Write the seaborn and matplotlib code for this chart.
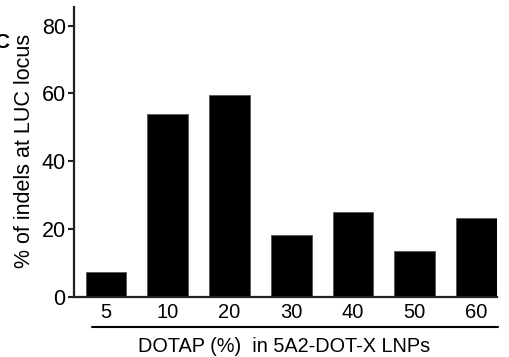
import matplotlib
matplotlib.use("Agg")
import matplotlib.pyplot as plt
import seaborn as sns
import pandas as pd

categories = ["5", "10", "20", "30", "40", "50", "60"]
indels = [7.5, 54.0, 59.4, 18.2, 25.0, 13.5, 23.3]
y_ticks = [0, 20, 40, 60, 80]

sns.set_style("ticks")
plt.rcParams['font.family'] = ['Liberation Sans', 'DejaVu Sans']
plt.rcParams['text.color'] = 'black'
plt.rcParams['axes.labelcolor'] = 'black'
plt.rcParams['xtick.color'] = 'black'
plt.rcParams['ytick.color'] = 'black'

df = pd.DataFrame({"DOTAP": categories, "indels": indels})

fig = plt.figure(figsize=(5.1, 3.57), dpi=100)
ax = fig.add_axes([74/510, 1-297/357, 423/510, (297-7.3)/357])

sns.barplot(data=df, x="DOTAP", y="indels", color="black", saturation=1,
            width=0.66, edgecolor="#555555", linewidth=0.6, ax=ax)

ax.set_xlim(-0.52, 6.33)
ax.set_ylim(0, 85.4)
ax.set_yticks(y_ticks)
ax.tick_params(axis='y', labelsize=15.5, length=4, width=1.5, color="#222222", pad=2)
ax.tick_params(axis='x', labelsize=14.5, length=0, pad=4)
for s in ["top", "right"]:
    ax.spines[s].set_visible(False)
for s in ["left", "bottom"]:
    ax.spines[s].set_linewidth(1.6)
    ax.spines[s].set_color("#222222")

ax.set_ylabel("% of indels at LUC locus", fontsize=15.5, va="center")
ax.yaxis.set_label_coords(-0.118, 0.504)
ax.set_xlabel("DOTAP (%)  in 5A2-DOT-X LNPs", fontsize=14.3, va="center")
ax.xaxis.set_label_coords(0.496, -0.172)

ax.plot([0.042, 1.003], [-0.1036, -0.1036], transform=ax.transAxes,
        color="black", linewidth=1.5, clip_on=False)

fig.text(-0.012, 1-42/357, "C", fontsize=15, fontweight="bold", va="center", ha="left")

fig.savefig("out.png", dpi=100)
